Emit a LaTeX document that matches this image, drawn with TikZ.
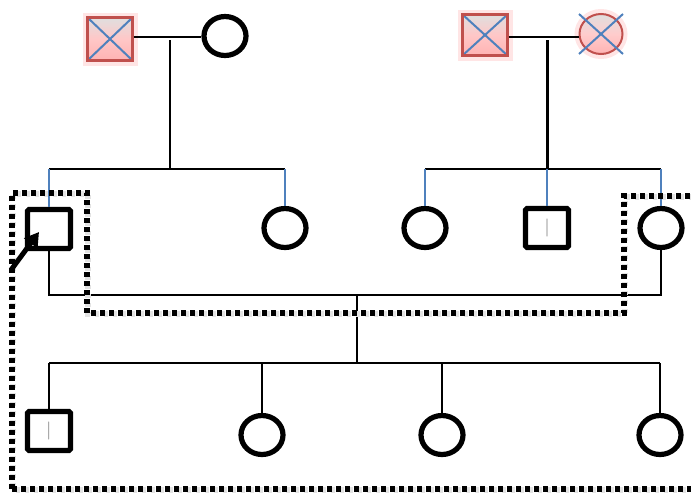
\documentclass[tikz,border=0pt]{standalone}
\usetikzlibrary{shapes.geometric,arrows.meta}
\definecolor{pedblue}{HTML}{4F81BD}
\definecolor{affred}{HTML}{C0504D}
\begin{document}
\begin{tikzpicture}[x=1pt,y=-1pt,
  male/.style={draw, line width=5.2pt, minimum width=43pt, minimum height=39pt, inner sep=0pt, rounded corners=1.5pt},
  female/.style={draw, ellipse, line width=5.2pt, minimum width=42pt, minimum height=39pt, inner sep=0pt},
  glow/.style={preaction={draw=red!10, line width=10pt, rounded corners=4pt}},
  affmale/.style={draw=affred, line width=2.2pt, top color=gray!25, bottom color=red!30, middle color=red!22, minimum width=45pt, minimum height=43pt, inner sep=0pt, glow,
    path picture={\draw[pedblue, line width=2pt] (path picture bounding box.north west) -- (path picture bounding box.south east)
      (path picture bounding box.north east) -- (path picture bounding box.south west);}},
  afffemale/.style={draw=affred, ellipse, line width=2pt, top color=gray!25, bottom color=red!30, middle color=red!20, minimum width=43pt, minimum height=40pt, inner sep=0pt, glow},
  bline/.style={line width=2.4pt, black},
  tline/.style={line width=1.9pt, black},
  blueline/.style={line width=2.4pt, pedblue},
  dotbox/.style={line width=5.5pt, dash pattern=on 5pt off 4pt, black},
  dotshadow/.style={line width=6.5pt, dash pattern=on 4pt off 5pt, dash phase=6pt, gray!22},
  carriermark/.style={font=\fontsize{18}{18}\selectfont, text=black!55}
]
\useasboundingbox (0,0) rectangle (691,496);

% generation I
\node[affmale] (gf1) at (110,39) {};
\node[female] (gm1) at (225,36) {};
\node[affmale, minimum height=41pt] (gf2) at (485,35) {};
\node[afffemale] (gm2) at (601,34) {};
\draw[pedblue, line width=2pt] ([shift={(-22,-20)}]gm2.center) -- ([shift={(22,20)}]gm2.center)
  ([shift={(22,-20)}]gm2.center) -- ([shift={(-22,20)}]gm2.center);

% generation II
\node[male] (c1) at (49,229) {};
\node[female] (c2) at (285,228) {};
\node[female] (c3) at (425,228) {};
\node[male, carriermark] (c4) at (547,228) {|};
\node[female] (c5) at (661,228) {};

% generation III
\node[male, carriermark] (g1) at (49,431) {|};
\node[female] (g2) at (262,435) {};
\node[female] (g3) at (442,435) {};
\node[female] (g4) at (660,435) {};

% couple 1
\draw[bline] (gf1.east |- 0,37) -- (gm1.west |- 0,37);
\coordinate (m1) at (170,40);
\coordinate (s1) at (170,169);
\draw[bline] (m1) -- (s1);
\draw[bline] (c1.north |- s1) -- (c2.north |- s1);
\draw[blueline] (c1.north |- s1) -- (c1.north);
\draw[blueline] (c2.north |- s1) -- (c2.north);

% couple 2
\draw[bline] (gf2.east |- 0,37) -- (gm2.west |- 0,37);
\coordinate (m2) at (547,40);
\coordinate (s2) at (547,169);
\draw[line width=3pt] (m2) -- (s2);
\draw[bline] (c3.north |- s2) -- (c5.north |- s2);
\draw[blueline] (c3.north |- s2) -- (c3.north);
\draw[blueline] (c4.north |- s2) -- (c4.north);
\draw[blueline] (c5.north |- s2) -- (c5.north);

% couple in generation II
\coordinate (mm) at (357,295);
\draw[bline] (c1.south) |- (mm) -| (c5.south);
\coordinate (s3) at (357,363);
\draw[tline] (mm) -- (s3);
\draw[tline] (g1.north |- s3) -- (g4.north |- s3);
\foreach \k in {g1,g2,g3,g4} \draw[tline] (\k.north |- s3) -- (\k.north);

% dotted box
\draw[dotshadow] (13,490) -- (13,194) -- (88,194) -- (88,314) -- (625,314) -- (625,197) -- (691,197);
\draw[dotshadow] (13,490) -- (691,490);
\draw[dotbox] (12,489) -- (12,193) -- (87,193) -- (87,313) -- (624,313) -- (624,196) -- (691,196);
\draw[dotbox] (12,489) -- (691,489);

% proband arrow
\coordinate (arr) at (11,270);
\draw[line width=5pt, -{Triangle[length=14pt,width=16pt]}] (arr) -- ([shift={(-10,3)}]c1.center);
\end{tikzpicture}
\end{document}
